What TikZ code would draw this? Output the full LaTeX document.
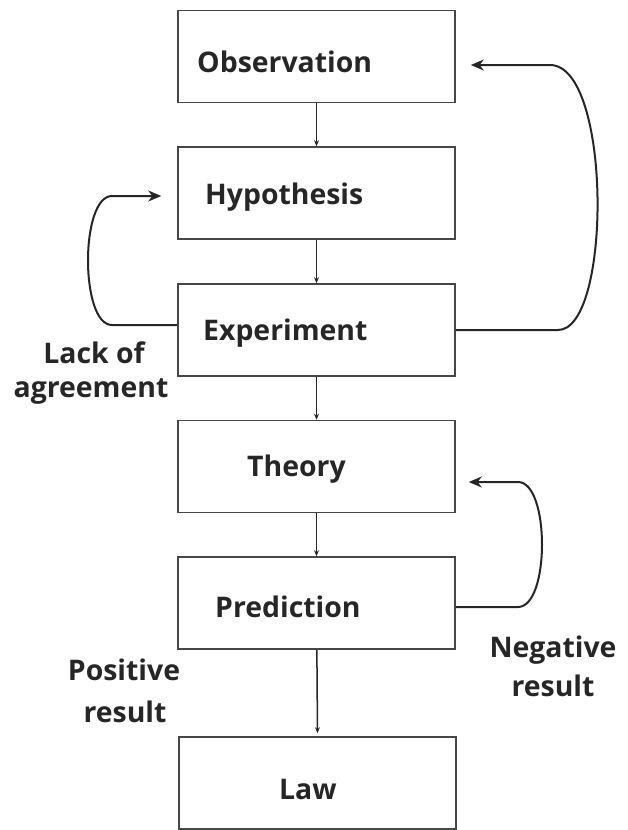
\documentclass[tikz,border=0pt]{standalone}
\usepackage{fontspec}
\setmainfont{Open Sans}
\usetikzlibrary{arrows.meta}
\begin{document}
\begin{tikzpicture}[x=1bp,y=-1bp,
  box/.style={draw=black!72, line width=1.6bp, minimum width=277bp, minimum height=92bp, inner sep=0pt},
  txt/.style={font=\fontsize{28.5}{30}\selectfont\bfseries, text=black!85, inner sep=0pt, anchor=base west},
  lbl/.style={font=\fontsize{28.5}{30}\selectfont\bfseries, text=black!85, inner sep=0pt, anchor=base},
  flow/.style={draw=black!85, line width=1.5bp, -{Stealth[length=6bp,width=5bp]}},
  loopline/.style={draw=black!85, line width=2bp, -{Stealth[length=13bp,width=11bp]}}]
\useasboundingbox (0,0) rectangle (628,830);
% boxes
\node[box] (obs)  at (316.5,56.5) {};
\node[box] (hyp)  at (316.5,193) {};
\node[box] (exp)  at (316.5,330) {};
\node[box] (theo) at (316.5,466.5) {};
\node[box] (pred) at (316.5,603) {};
\node[box] (law)  at (317.5,783) {};
% box texts
\node[txt] (tobs)  at (197,72)  {Observation};
\node[txt] (thyp)  at (205,204) {Hypothesis};
\node[txt] (texp)  at (203,340) {Experiment};
\node[txt] (ttheo) at (247,476) {Theory};
\node[txt] (tpred) at (215,617) {Prediction};
\node[txt] (tlaw)  at (279,799) {Law};
% side labels
\node[lbl] (lack1) at (94,363) {Lack of};
\node[lbl] (lack2) at (91,397) {agreement};
\node[lbl] (pos1)  at (124,680) {Positive};
\node[lbl] (pos2)  at (125,722) {result};
\node[lbl] (neg1)  at (553,657) {Negative};
\node[lbl] (neg2)  at (553,696) {result};
% straight connectors
\draw[flow] (obs) -- (hyp);
\draw[flow] (hyp) -- (exp);
\draw[flow] (exp) -- (theo);
\draw[flow] (theo) -- (pred);
\draw[flow] (pred) -- ([yshift=3bp]law.north);
% loops
\draw[loopline] ([yshift=5bp]exp.west) -- (112,325)
  .. controls (80,325) and (80,196) .. (112,196)
  -- ([xshift=-16bp,yshift=-3bp]hyp.west);
\draw[loopline] (exp.east) -- (558,330)
  .. controls (612,330) and (612,65) .. (550,65)
  -- ([xshift=15bp,yshift=-8.5bp]obs.east);
\draw[loopline] ([yshift=-4bp]pred.east) -- (518,607)
  .. controls (550,607) and (550,482) .. (518,482)
  -- ([xshift=13bp,yshift=-15.5bp]theo.east);
\end{tikzpicture}
\end{document}
